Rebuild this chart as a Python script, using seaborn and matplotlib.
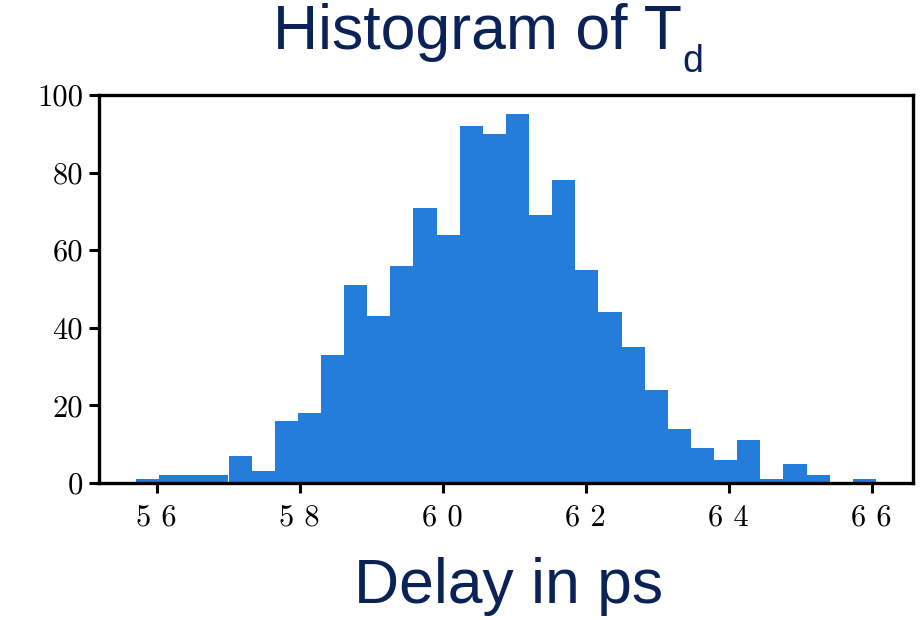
import numpy as np
import pandas as pd
import matplotlib
matplotlib.use("Agg")
import matplotlib.pyplot as plt
import seaborn as sns

# ---- data ----
bin_start = 55.71
bin_end = 66.06
n_bins = 32
counts = [1, 2, 2, 2, 7, 3, 16, 18, 33, 51, 43, 56, 71, 64, 92, 90,
          95, 69, 78, 55, 44, 35, 24, 14, 9, 6, 11, 1, 5, 2, 0, 1]
x_ticks = [56, 58, 60, 62, 64, 66]
x_tick_labels = ["5 6", "5 8", "6 0", "6 2", "6 4", "6 6"]
y_ticks = [0, 20, 40, 60, 80, 100]
y_tick_labels = ["0", "20", "40", "60", "80", "100"]
title_main = "Histogram of T"
title_sub = "d"
xlabel = "Delay in ps"

edges = np.linspace(bin_start, bin_end, n_bins + 1)
centers = (edges[:-1] + edges[1:]) / 2
df = pd.DataFrame({"delay": centers, "count": counts})

sns.set_style("ticks")
plt.rcParams["font.family"] = ["Liberation Sans", "DejaVu Sans"]

fig = plt.figure(figsize=(9.23, 6.2), dpi=100)
ax = fig.add_axes([99 / 923, 1 - 483 / 620, (913 - 99) / 923, (483 - 95) / 620])

sns.histplot(data=df, x="delay", weights="count", bins=edges.tolist(), ax=ax,
             color="#247CDB", alpha=1.0, edgecolor="none", linewidth=0)

ax.set_xlim(bin_start - 0.05 * (bin_end - bin_start), bin_end + 0.05 * (bin_end - bin_start))
ax.set_ylim(0, 100)
ax.set_xticks(x_ticks, x_tick_labels)
ax.set_yticks(y_ticks, y_tick_labels)
for lab in ax.get_xticklabels() + ax.get_yticklabels():
    lab.set_fontfamily("cmr10")
    lab.set_fontsize(22)
    lab.set_color("black")
ax.tick_params(axis="both", length=7.5, width=2.2, color="black", pad=4)
ax.tick_params(axis="x", pad=8)
for s in ax.spines.values():
    s.set_visible(True)
    s.set_linewidth(2.4)
    s.set_color("black")
ax.set_xlabel("")
ax.set_ylabel("")

navy = "#0b2257"
t = fig.text(273 / 923, 1 - 49 / 620, title_main, ha="left", va="baseline",
             fontsize=45, color=navy)
fig.canvas.draw()
bb = t.get_window_extent()
fig.text(bb.x1 / 923 + 1 / 923, 1 - 72 / 620, title_sub, ha="left", va="baseline",
         fontsize=27, color=navy)
fig.text(509 / 923, 1 - 603 / 620, xlabel, ha="center", va="baseline",
         fontsize=45, color=navy)

fig.savefig("out.png", dpi=100)
